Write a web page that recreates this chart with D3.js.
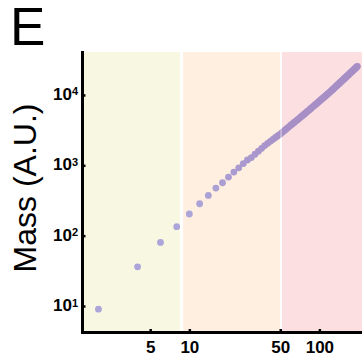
<!DOCTYPE html>
<html>
<head>
<meta charset="utf-8">
<script src="https://cdn.jsdelivr.net/npm/d3@7"></script>
<style>
html,body{margin:0;padding:0;background:#fff;}
svg{display:block;}
</style>
</head>
<body>
<svg id="chart" width="362" height="356"></svg>
<script>
// ---- data ----
const panelLabel = "E";
const yTitle = "Mass (A.U.)";
const xTickValues = [5, 10, 50, 100];
const xTickLabels = ["5", "10", "50", "100"];
const yTickValues = [10, 100, 1000, 10000];
const yTickExponents = ["1", "2", "3", "4"];
const bandStarts = [1.49, 8.95, 51.6];
const bandEnds = [8.48, 49.9, 213];
const bandColors = ["#f8f8e2", "#feefe0", "#fcdfe0"];

const sizeValues = [2, 4, 6, 8, 10, 12, 14, 16, 18, 20, 22, 24, 26, 28, 30, 32, 34, 36, 38, 40,
  42, 44, 46, 48, 50, 52, 54, 56, 58, 60, 62, 64, 66, 68, 70, 72, 74, 76, 78, 80,
  82, 84, 86, 88, 90, 92, 94, 96, 98, 100, 102, 104, 106, 108, 110, 112, 114, 116, 118, 120,
  122, 124, 126, 128, 130, 132, 134, 136, 138, 140, 142, 144, 146, 148, 150, 152, 154, 156, 158, 160,
  162, 164, 166, 168, 170, 172, 174, 176, 178, 180, 182, 184, 186, 188, 190, 192, 194, 196];
const massValues = [9, 36, 80, 134, 203, 284, 373, 474, 565, 680, 800, 920, 1060, 1190, 1290, 1436, 1588, 1744, 1907, 2052,
  2193, 2339, 2484, 2633, 2782, 2954, 3131, 3310, 3493, 3679, 3869, 4062, 4256, 4455, 4658, 4862, 5070, 5282, 5497, 5724,
  5952, 6186, 6421, 6662, 6902, 7150, 7398, 7651, 7905, 8163, 8424, 8687, 8956, 9226, 9500, 9775, 10055, 10339, 10622, 10910,
  11210, 11527, 11852, 12178, 12508, 12846, 13183, 13524, 13874, 14220, 14577, 14934, 15296, 15663, 16028, 16397, 16775, 17153, 17541, 17924,
  18316, 18707, 19107, 19508, 19912, 20319, 20731, 21151, 21569, 21995, 22420, 22848, 23278, 23722, 24163, 24617, 25060, 25530];

// ---- layout ----
const svg = d3.select("#chart");
const mLeft = 82, mRight = 362, mTop = 52, mBottom = 332;
const font = "'Liberation Sans', Arial, Helvetica, sans-serif";

const x = d3.scaleLog().domain([1.495, 212.7]).range([mLeft, mRight]);
const y = d3.scaleLog().domain([4.27, 40800]).range([mBottom, mTop]);

// bands
const bands = bandStarts.map((s, i) => ({s, e: bandEnds[i], c: bandColors[i]}));
svg.append("g").selectAll("rect").data(bands).join("rect")
  .attr("x", d => Math.max(x(d.s), mLeft + 1))
  .attr("width", d => Math.min(x(d.e), mRight) - Math.max(x(d.s), mLeft + 1))
  .attr("y", mTop)
  .attr("height", mBottom - mTop)
  .attr("fill", d => d.c);

// points
const pts = sizeValues.map((v, i) => ({x: v, m: massValues[i]}));
const col = d3.scaleLog().domain([10, 60]).range(["#aca5d9", "#a78fc6"]).clamp(true);
svg.append("g").selectAll("circle").data(pts).join("circle")
  .attr("cx", d => x(d.x))
  .attr("cy", d => y(d.m))
  .attr("r", 3.4)
  .attr("fill", d => col(d.x));

// translucent white gaps over the points
const gaps = bandEnds.slice(0, -1).map((e, i) => ({a: e, b: bandStarts[i + 1]}));
svg.append("g").selectAll("rect").data(gaps).join("rect")
  .attr("x", d => x(d.a))
  .attr("width", d => x(d.b) - x(d.a))
  .attr("y", mTop)
  .attr("height", mBottom - mTop)
  .attr("fill", "#fff")
  .attr("opacity", 0.35);

// x axis
const xAxis = d3.axisBottom(x)
  .tickValues(xTickValues)
  .tickFormat((d, i) => xTickLabels[i])
  .tickSizeInner(-3)
  .tickSizeOuter(0)
  .tickPadding(9);
const gx = svg.append("g").attr("transform", `translate(0,${mBottom})`).call(xAxis);
gx.select(".domain").attr("stroke", "#000").attr("stroke-width", 3).attr("stroke-linecap", "square");
gx.selectAll(".tick line").attr("stroke", "#000").attr("stroke-width", 2.5);
gx.selectAll(".tick text").attr("font-family", font).attr("font-size", 17)
  .attr("font-weight", "bold").attr("fill", "#000");

// y axis
const yAxis = d3.axisLeft(y)
  .tickValues(yTickValues)
  .tickFormat(() => "")
  .tickSizeInner(-3.5)
  .tickSizeOuter(0)
  .tickPadding(4);
const gy = svg.append("g").attr("transform", `translate(${mLeft},0)`).call(yAxis);
gy.select(".domain").attr("stroke", "#000").attr("stroke-width", 3).attr("stroke-linecap", "square");
gy.selectAll(".tick line").attr("stroke", "#000").attr("stroke-width", 2.5);
gy.selectAll(".tick text").each(function(d, i) {
  const t = d3.select(this)
    .attr("font-family", font).attr("font-weight", "bold").attr("fill", "#000")
    .attr("dy", "0.45em");
  t.append("tspan").attr("font-size", 17).text("10");
  t.append("tspan").attr("font-size", 11).attr("dy", -4.5).text(yTickExponents[i]);
});

// y title
svg.append("text")
  .attr("transform", "translate(36,188) rotate(-90)")
  .attr("text-anchor", "middle")
  .attr("font-family", font)
  .attr("font-size", 32)
  .attr("fill", "#000")
  .text(yTitle);

// panel label
svg.append("text")
  .attr("x", 10).attr("y", 45)
  .attr("font-family", font)
  .attr("font-size", 53)
  .attr("fill", "#000")
  .text(panelLabel);
</script>
</body>
</html>
